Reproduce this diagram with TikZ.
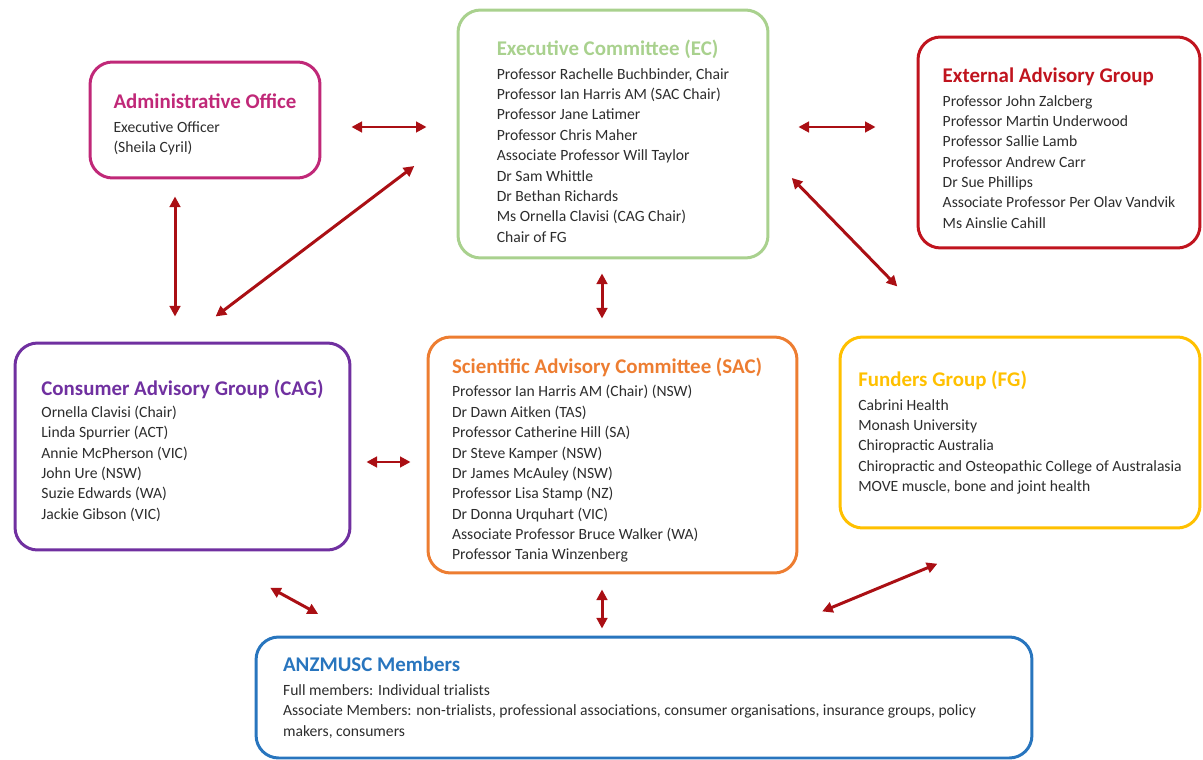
\documentclass[tikz,border=0pt]{standalone}
\usepackage{fontspec}
\setmainfont{Carlito}
\usetikzlibrary{arrows.meta}
\definecolor{admpink}{RGB}{192,40,120}
\definecolor{ecgreen}{RGB}{169,209,142}
\definecolor{eagred}{RGB}{192,20,30}
\definecolor{cagpurple}{RGB}{112,48,160}
\definecolor{sacorange}{RGB}{237,125,49}
\definecolor{fggold}{RGB}{255,192,0}
\definecolor{memblue}{RGB}{40,117,190}
\definecolor{linkred}{RGB}{170,15,20}
\definecolor{bodygray}{RGB}{45,45,45}
% optional arg: height of the title line (pushes the block down)
\newcommand\grouptitle[3][0pt]{\rule{0pt}{#1}{\color{#2}\fontsize{11.9}{11.6}\selectfont\bfseries #3}}
\tikzset{
  groupbox/.style={draw=#1, line width=1.7pt, rounded corners=0.45cm, align=flush left,
    text=bodygray, font=\fontsize{8.9}{11.6}\selectfont, inner ysep=0pt},
  link/.style={<->, >={Triangle[length=6pt,width=6pt]}, draw=linkred, line width=1.7pt}
}
\begin{document}
\begin{tikzpicture}[x=0.02cm,y=-0.02cm]
\useasboundingbox (0,0) rectangle (1203,760);
% groups
\node[groupbox=admpink, minimum width=4.6cm, minimum height=2.32cm] (adm) at (205,120)
  {\grouptitle[13.4pt]{admpink}{Administrative Office}\\[2pt]
   Executive Officer\\
   (Sheila Cyril)};
\node[groupbox=ecgreen, minimum width=6.2cm, minimum height=4.96cm] (ec) at (613,134)
  {\grouptitle[16.8pt]{ecgreen}{Executive Committee (EC)}\\[2pt]
   Professor Rachelle Buchbinder, Chair\\
   Professor Ian Harris AM (SAC Chair)\\
   Professor Jane Latimer\\
   Professor Chris Maher\\
   Associate Professor Will Taylor\\
   Dr Sam Whittle\\
   Dr Bethan Richards\\
   Ms Ornella Clavisi (CAG Chair)\\
   Chair of FG};
\node[groupbox=eagred, minimum width=5.64cm, minimum height=4.22cm] (eag) at (1059,142.5)
  {\grouptitle[14.6pt]{eagred}{External Advisory Group}\\[2pt]
   Professor John Zalcberg\\
   Professor Martin Underwood\\
   Professor Sallie Lamb\\
   Professor Andrew Carr\\
   Dr Sue Phillips\\
   Associate Professor Per Olav Vandvik\\
   Ms Ainslie Cahill};
\node[groupbox=cagpurple, minimum width=6.7cm, minimum height=4.14cm] (cag) at (182.5,446.5)
  {\grouptitle[13.4pt]{cagpurple}{Consumer Advisory Group (CAG)}\\[1pt]
   Ornella Clavisi (Chair)\\
   Linda Spurrier (ACT)\\
   Annie McPherson (VIC)\\
   John Ure (NSW)\\
   Suzie Edwards (WA)\\
   Jackie Gibson (VIC)};
\node[groupbox=sacorange, text width=6.42cm, inner xsep=0.48cm, minimum height=4.72cm] (sac) at (612.5,455)
  {\grouptitle[14.6pt]{sacorange}{Scientific Advisory Committee (SAC)}\\[2pt]
   Professor Ian Harris AM (Chair) (NSW)\\
   Dr Dawn Aitken (TAS)\\
   Professor Catherine Hill (SA)\\
   Dr Steve Kamper (NSW)\\
   Dr James McAuley (NSW)\\
   Professor Lisa Stamp (NZ)\\
   Dr Donna Urquhart (VIC)\\
   Associate Professor Bruce Walker (WA)\\
   Professor Tania Winzenberg};
\node[groupbox=fggold, minimum width=7.2cm, minimum height=3.82cm] (fg) at (1020,432.5)
  {\grouptitle{fggold}{Funders Group (FG)}\\[2pt]
   Cabrini Health\\
   Monash University\\
   Chiropractic Australia\\
   Chiropractic and Osteopathic College of Australasia\\
   MOVE muscle, bone and joint health};
\node[groupbox=memblue, text width=14.44cm, inner xsep=0.54cm, minimum height=2.42cm] (mem) at (644,697.5)
  {\grouptitle{memblue}{ANZMUSC Members}\\[2pt]
   Full members: Individual trialists\\
   Associate Members: non-trialists, professional associations, consumer organisations, insurance groups, policy\\
   makers, consumers};
% links
\draw[link, shorten <=0.6cm, shorten >=0.6cm] ([yshift=-0.14cm]adm.east) -- ([yshift=-0.14cm]adm.east -| ec.west);
\draw[link, shorten <=0.58cm, shorten >=0.82cm] ([yshift=0.14cm]ec.east) -- ([yshift=0.14cm]ec.east -| eag.west);
\draw[link, shorten <=0.34cm, shorten >=0.5cm] ([xshift=-0.6cm]adm.south) -- ([xshift=-0.6cm]adm.south |- cag.north);
\draw[link, shorten <=1.06cm, shorten >=0.83cm] (ec.west) -- (cag.north);
\draw[link, shorten <=0.64cm, shorten >=1.37cm] ([yshift=-0.42cm]ec.east) -- ([xshift=-1.5cm]fg.north);
\draw[link, shorten <=0.28cm, shorten >=0.34cm] ([xshift=-0.22cm]ec.south) -- ([xshift=-0.22cm]ec.south |- sac.north);
\draw[link, shorten <=0.3cm, shorten >=0.32cm] ([yshift=-0.31cm]cag.east) -- ([yshift=-0.31cm]cag.east -| sac.west);
\draw[link, shorten <=0.3cm, shorten >=0.14cm] ([xshift=-0.21cm]sac.south) -- ([xshift=-0.21cm]sac.south |- mem.north);
\draw[link, shorten <=1.51cm, shorten >=0.9cm] ([xshift=0.43cm]cag.south) -- ([xshift=2.06cm]mem.north west);
\draw[link, shorten <=1.79cm, shorten >=1.26cm] (fg.south) -- ([xshift=2.4cm]mem.north);
\end{tikzpicture}
\end{document}
